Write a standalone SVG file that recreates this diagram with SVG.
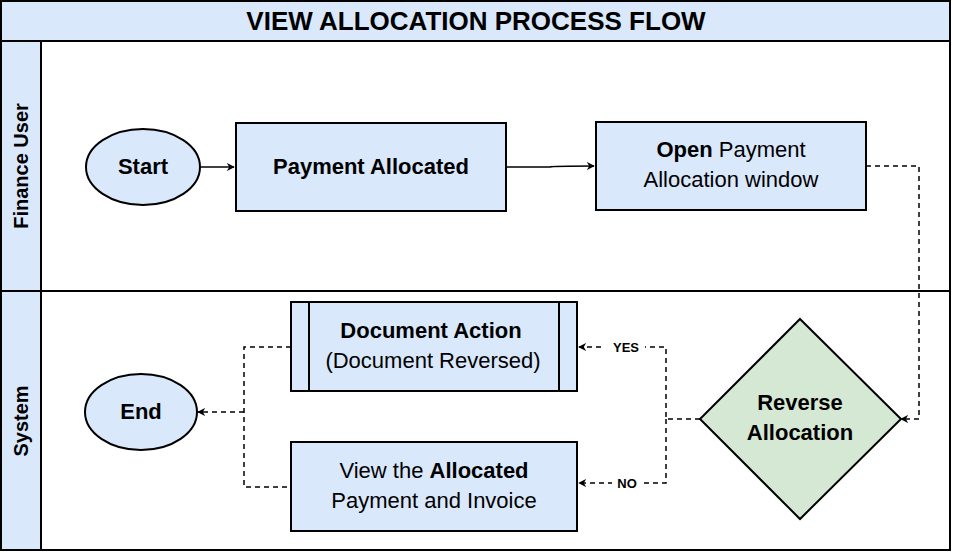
<svg xmlns="http://www.w3.org/2000/svg" width="953" height="553" viewBox="0 0 953 553">
<style>
text{font-family:"Liberation Sans",Arial,sans-serif;fill:#000}
.b{fill:#dae8fc;stroke:#000;stroke-width:2}
.l{fill:none;stroke:#000;stroke-width:2}
.c{fill:none;stroke:#000;stroke-width:1.5}
.d{fill:none;stroke:#000;stroke-width:1.5;stroke-dasharray:5 4}
.t{font-size:22px;text-anchor:middle}
.lb{font-size:13px;font-weight:bold;text-anchor:middle}
</style>
<defs><marker id="a" viewBox="0 0 10 10" refX="9" refY="5" markerWidth="8" markerHeight="8" orient="auto" markerUnits="userSpaceOnUse"><path d="M0,0 L10,5 L0,10 L3,5 Z" fill="#000"/></marker></defs>
<rect width="953" height="553" fill="#fff"/>
<g id="pool">
<rect x="1" y="1" width="949" height="549" class="l" fill="#fff"/>
<rect x="1" y="1" width="949" height="40" class="b"/>
<text x="476" y="30" font-size="26" font-weight="bold" text-anchor="middle">VIEW ALLOCATION PROCESS FLOW</text>
<rect x="1" y="41" width="40" height="250" class="b"/>
<rect x="41" y="41" width="909" height="250" class="l"/>
<text transform="translate(28,166) rotate(-90)" font-size="20" font-weight="bold" text-anchor="middle">Finance User</text>
<rect x="1" y="291" width="40" height="259" class="b"/>
<rect x="41" y="291" width="909" height="259" class="l"/>
<text transform="translate(28,421) rotate(-90)" font-size="20" font-weight="bold" text-anchor="middle">System</text>
</g>
<g id="connectors">
<path d="M200,167 H234" class="c" marker-end="url(#a)"/>
<path d="M506,167 H550 Q552,166 594,166" class="c" marker-end="url(#a)"/>
<path d="M866,166 H919 V419 H901" class="d" marker-end="url(#a)"/>
<path d="M700,419 H666 V347 H579" class="d" marker-end="url(#a)"/>
<path d="M666,419 V483 H579" class="d" marker-end="url(#a)"/>
<rect x="605" y="339" width="40" height="16" fill="#fff"/>
<text x="626" y="352" class="lb">YES</text>
<rect x="612" y="475" width="30" height="16" fill="#fff"/>
<text x="627" y="488" class="lb">NO</text>
<path d="M291,347 H244 V487 H291" class="d"/>
<path d="M244,412 H198" class="d" marker-end="url(#a)"/>
</g>
<g id="start"><ellipse cx="143" cy="167" rx="57" ry="38" class="b"/><text x="143" y="174" class="t" font-weight="bold">Start</text></g>
<g id="payment"><rect x="236" y="123" width="270" height="88" class="b"/><text x="371" y="174" class="t" font-weight="bold">Payment Allocated</text></g>
<g id="open"><rect x="596" y="122" width="270" height="88" class="b"/><text x="731" y="157" class="t"><tspan font-weight="bold">Open</tspan> Payment</text><text x="731" y="187" class="t">Allocation window</text></g>
<g id="docaction"><rect x="291" y="302" width="286" height="89" class="b"/><path d="M309,302 V391 M559,302 V391" class="l"/><text x="431" y="338" class="t" font-weight="bold">Document Action</text><text x="433" y="368" class="t">(Document Reversed)</text></g>
<g id="view"><rect x="291" y="442" width="286" height="89" class="b"/><text x="434" y="478" class="t">View the <tspan font-weight="bold">Allocated</tspan></text><text x="434" y="508" class="t">Payment and Invoice</text></g>
<g id="end"><ellipse cx="141" cy="412" rx="56" ry="38" class="b"/><text x="141" y="419" class="t" font-weight="bold">End</text></g>
<g id="reverse"><path d="M800,319 L901,419 L800,519 L700,419 Z" fill="#d5e8d4" stroke="#000" stroke-width="2"/><text x="800" y="410" class="t" font-weight="bold">Reverse</text><text x="800" y="440" class="t" font-weight="bold">Allocation</text></g>
</svg>
